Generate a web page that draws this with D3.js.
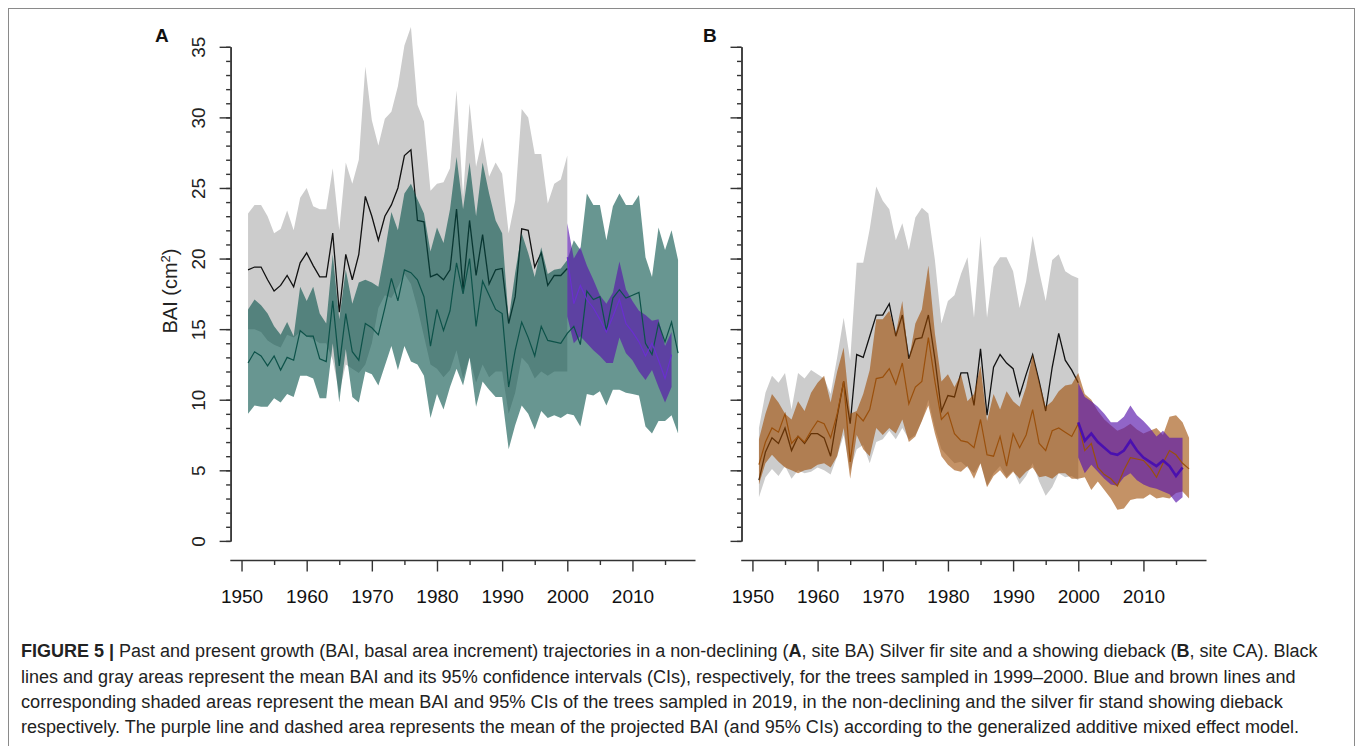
<!DOCTYPE html>
<html><head><meta charset="utf-8">
<script src="https://cdn.jsdelivr.net/npm/d3@7/dist/d3.min.js"></script>
<style>
body{margin:0;background:#fff}
svg{display:block}
text{font-family:"Liberation Sans",Arial,Helvetica,sans-serif}
</style>
</head><body><script>
// ---------------- DATA ----------------
const xTicks = [1950, 1960, 1970, 1980, 1990, 2000, 2010];
const yTicks = [0, 5, 10, 15, 20, 25, 30, 35];
const startOld = 1951;   // trees sampled 1999-2000 (1951-2000)
const startNew = 1951;   // trees sampled 2019 (1951-2017)
const startProj = 2000;  // GAMM projection (2000-2016)

// Panel A (site BA, non-declining)
const blackMeanA = [19.2,19.4,19.4,18.5,17.7,18.1,18.8,18.0,19.7,20.4,19.5,18.7,18.7,21.8,16.2,20.3,18.5,20.3,24.4,23.0,21.3,23.0,23.8,25.0,27.3,27.7,22.7,22.6,18.7,18.9,18.5,19.2,23.5,17.8,22.7,18.8,21.7,18.2,19.2,19.3,15.4,17.3,22.1,22.0,19.4,20.4,18.1,18.8,18.8,19.3];
const grayUpA = [23.2,23.8,23.8,23.0,21.8,22.1,23.4,22.0,24.3,25.0,23.7,23.5,23.5,26.4,22.0,26.8,25.3,27.0,33.6,29.8,28.0,29.9,30.4,32.2,35.1,36.4,30.9,29.7,24.8,25.3,25.4,26.4,31.9,24.4,31.0,26.5,28.6,25.8,26.8,26.0,21.8,24.1,30.6,30.0,27.4,27.4,23.9,25.3,25.6,27.3];
const grayLowA = [15.0,15.0,14.8,14.2,13.9,13.7,14.6,14.4,14.8,14.5,14.3,14.0,14.0,12.8,10.5,12.5,12.2,11.9,12.5,14.0,16.5,17.4,17.2,18.0,18.9,18.2,16.5,14.5,12.5,12.2,11.6,12.1,13.5,11.5,13.0,11.2,12.5,11.6,12.0,12.0,9.0,10.5,13.0,12.5,11.5,12.0,11.7,12.0,12.0,12.0];
const tealMeanA = [12.6,13.4,13.1,12.4,13.1,12.1,13.0,12.8,14.9,14.5,14.5,12.9,12.7,17.0,12.4,16.1,13.4,12.8,15.4,15.1,14.6,16.5,18.6,17.0,19.2,19.0,18.5,17.3,13.8,16.4,14.9,16.3,19.7,17.5,20.0,15.2,18.4,17.4,16.4,16.1,10.9,13.5,15.5,14.4,13.1,15.2,14.2,14.1,14.0,14.7,15.2,13.9,17.7,17.1,17.3,14.9,17.2,17.8,17.2,17.4,17.6,14.0,13.2,15.4,14.1,15.5,13.3];
const tealUpA = [16.4,17.1,16.7,16.1,15.2,14.6,15.5,14.5,18.0,17.0,18.0,16.1,15.4,20.3,15.7,19.2,16.8,18.3,18.5,18.3,18.0,20.5,23.3,22.0,24.6,25.3,24.2,23.2,20.5,22.2,21.1,23.5,27.2,23.5,26.8,23.0,26.8,24.6,22.7,21.8,15.7,19.0,21.8,20.4,18.7,20.8,18.9,19.2,19.3,19.9,21.3,20.6,24.6,23.8,23.8,21.3,23.7,24.6,23.8,23.8,24.5,20.1,18.7,22.2,20.6,22.0,19.9];
const tealLowA = [9.0,9.6,9.5,9.5,10.1,9.8,10.4,10.2,11.7,11.7,11.5,10.1,10.1,14.0,9.8,13.6,10.2,9.8,12.0,11.8,11.0,12.4,13.8,12.1,13.8,12.7,12.5,11.7,8.7,10.4,9.3,10.9,12.2,11.0,13.0,9.5,11.3,10.7,10.2,10.2,6.5,8.2,9.6,9.0,7.9,9.2,8.7,8.9,8.7,9.0,8.9,8.1,10.4,10.3,10.6,9.6,10.7,10.7,10.5,10.4,10.3,8.1,7.6,8.5,8.5,8.9,7.6];
const projMeanA = [20.1,16.8,18.1,17.1,16.5,15.7,14.8,15.9,17.1,15.4,14.8,14.1,13.1,14.0,12.8,11.5,13.2];
const projUpA = [22.5,20.0,20.8,19.5,18.5,17.4,16.8,17.6,19.8,17.8,17.0,16.3,16.0,15.6,15.7,13.8,14.8];
const projLowA = [15.9,14.0,14.5,14.0,13.5,13.1,12.6,12.6,14.4,13.3,12.8,12.0,11.4,12.1,10.9,9.8,10.9];

// Panel B (site CA, dieback)
const blackMeanB = [4.3,6.3,7.3,6.9,8.0,6.4,7.4,6.9,7.6,7.6,7.3,6.0,8.8,11.3,8.3,13.2,13.0,14.5,16.0,16.0,16.8,14.5,16.0,12.9,14.3,14.4,16.0,12.9,9.2,10.3,10.2,11.9,11.9,9.6,13.6,8.9,12.3,13.2,12.6,12.2,10.3,11.8,13.2,11.3,9.2,12.3,14.7,12.8,12.1,11.2];
const grayUpB = [8.0,10.5,11.7,11.2,11.9,9.3,11.9,11.5,12.1,11.8,11.5,10.4,13.0,15.8,12.8,19.7,19.7,22.1,25.1,24.1,23.5,21.3,22.5,20.6,22.9,23.6,23.2,19.9,15.4,17.0,17.4,18.9,20.1,15.8,21.6,15.8,19.4,20.1,20.1,19.1,16.5,18.4,21.6,19.1,17.0,19.9,20.3,19.1,18.8,18.6];
const grayLowB = [3.1,4.5,5.1,4.6,5.3,4.4,5.0,4.8,4.9,5.2,5.0,4.7,6.0,7.5,5.0,6.5,6.8,5.5,7.0,7.2,7.8,7.2,8.0,7.2,7.5,8.5,10.0,8.0,6.5,6.0,5.5,5.6,5.2,4.8,5.5,3.9,4.8,5.3,4.5,5.0,4.0,4.6,5.5,4.2,3.2,3.8,4.8,4.5,4.6,4.3];
const brownMeanB = [5.4,7.0,8.0,7.7,9.0,6.9,7.4,7.0,7.8,8.5,8.3,7.3,9.0,11.3,5.6,9.0,8.5,9.3,11.5,11.6,12.2,11.1,12.6,9.7,10.9,11.3,14.4,11.3,8.6,9.1,7.6,7.1,7.0,6.6,8.6,6.1,6.0,7.4,5.3,7.6,6.6,7.5,9.3,6.9,6.4,7.8,8.0,7.7,7.4,8.3,6.4,6.9,5.2,4.7,4.4,3.9,5.0,5.9,5.8,5.7,5.2,4.5,5.5,6.4,6.1,5.5,5.1];
const brownUpB = [7.2,9.0,10.4,9.8,9.0,8.6,9.9,9.2,10.5,11.2,11.7,9.8,12.0,13.7,9.0,9.2,10.4,12.1,15.7,15.7,16.3,14.7,17.0,12.8,15.4,16.4,19.5,14.7,11.3,11.8,10.9,11.8,9.9,10.4,12.4,8.5,10.4,9.3,10.6,9.9,9.5,10.9,13.2,11.3,9.5,9.9,10.6,11.0,11.1,11.9,10.4,10.0,9.2,8.6,8.2,7.8,8.0,8.3,7.9,7.6,7.8,8.0,7.5,8.8,8.9,8.4,7.3];
const brownLowB = [4.0,5.5,6.1,5.6,5.2,5.0,4.8,5.0,5.1,5.4,5.5,5.2,6.0,8.0,4.4,7.5,6.5,6.0,8.0,7.5,8.0,7.6,8.6,7.0,7.4,8.5,9.6,7.6,6.0,5.4,5.0,4.9,5.3,4.4,5.5,3.8,4.6,5.0,4.4,4.9,4.4,4.9,5.2,4.5,4.6,4.4,4.8,4.8,4.4,4.4,4.5,3.6,4.2,3.6,3.0,2.2,2.3,2.9,3.0,3.0,3.3,3.0,3.1,3.0,3.4,3.5,3.0];
const projMeanB = [8.4,7.1,7.6,7.0,6.6,6.2,6.1,6.4,7.1,6.4,5.9,5.6,5.3,5.7,5.3,4.6,5.2];
const projUpB = [11.2,10.2,9.9,9.5,9.0,8.4,8.4,8.8,9.6,8.9,8.5,8.0,7.4,7.8,7.3,7.3,7.3];
const projLowB = [5.9,4.8,5.4,4.9,4.4,4.0,3.9,4.5,4.8,4.3,4.0,3.8,3.7,3.5,3.3,2.7,3.1];

const captionLines = [
  [["FIGURE 5 | ",true],["Past and present growth (BAI, basal area increment) trajectories in a non-declining (",false],["A",true],[", site BA) Silver fir site and a showing dieback (",false],["B",true],[", site CA). Black",false]],
  [["lines and gray areas represent the mean BAI and its 95% confidence intervals (CIs), respectively, for the trees sampled in 1999–2000. Blue and brown lines and",false]],
  [["corresponding shaded areas represent the mean BAI and 95% CIs of the trees sampled in 2019, in the non-declining and the silver fir stand showing dieback",false]],
  [["respectively. The purple line and dashed area represents the mean of the projected BAI (and 95% CIs) according to the generalized additive mixed effect model.",false]]
];

// ---------------- DRAWING ----------------
const W = 1358, H = 746;
const svg = d3.select("body").append("svg").attr("width", W).attr("height", H);
svg.append("rect").attr("width", W).attr("height", H).attr("fill", "#fff");
svg.append("rect").attr("x", 8.5).attr("y", 8.5).attr("width", 1346).attr("height", 760)
   .attr("fill", "none").attr("stroke", "#8a8a8a").attr("stroke-width", 1);

const y = d3.scaleLinear().domain([0, 35]).range([540.9, 46.8]);

function rows(start, mean, lo, hi) {
  return mean.map((m, i) => ({yr: start + i, m: m, lo: lo ? lo[i] : null, hi: hi ? hi[i] : null}));
}

function drawPanel(p) {
  const x = d3.scaleLinear().domain([1948.2, 2019.6]).range([p.x0, p.x1]);
  const g = svg.append("g");
  const area = d3.area().x(d => x(d.yr)).y0(d => y(d.lo)).y1(d => y(d.hi));
  const line = d3.line().x(d => x(d.yr)).y(d => y(d.m));

  const old = rows(startOld, p.blackMean, p.grayLow, p.grayUp);
  const nw = rows(startNew, p.newMean, p.newLow, p.newUp);
  const pr = rows(startProj, p.projMean, p.projLow, p.projUp);

  g.append("path").attr("d", area(old)).attr("fill", "#cccccc");
  g.append("path").attr("d", line(old)).attr("fill", "none").attr("stroke", "#111").attr("stroke-width", 1.3);
  g.append("path").attr("d", area(nw)).attr("fill", p.newColor).attr("fill-opacity", 0.6);
  g.append("path").attr("d", area(pr)).attr("fill", "rgb(88,22,172)").attr("fill-opacity", 0.66);
  g.append("path").attr("d", line(nw)).attr("fill", "none").attr("stroke", p.newLine).attr("stroke-width", 1.2);
  g.append("path").attr("d", line(pr)).attr("fill", "none").attr("stroke", p.projLine).attr("stroke-width", p.projWidth);

  // y axis
  const ya = g.append("g").attr("transform", `translate(${p.yAxisX},0)`).attr("color", "#333");
  ya.call(d3.axisLeft(y).tickValues(d3.range(0, 36, 1)).tickSize(4.5).tickSizeOuter(0).tickFormat(""));
  const yb = g.append("g").attr("transform", `translate(${p.yAxisX},0)`).attr("color", "#333");
  yb.call(d3.axisLeft(y).tickValues(yTicks).tickSize(11).tickSizeOuter(0).tickFormat(p.yLabels ? d3.format("d") : ""));
  [ya, yb].forEach(a => { a.attr("font-size", null).attr("font-family", null); a.selectAll("line,path").attr("stroke-width", 1.4); });
  yb.selectAll("text").attr("transform", "rotate(-90)").attr("x", 0).attr("y", -25.5).attr("dy", 0)
    .attr("text-anchor", "middle").style("font-size", "19px").attr("fill", "#222");

  // x axis
  const xa = g.append("g").attr("transform", "translate(0,560)").attr("color", "#333");
  xa.call(d3.axisBottom(x).tickValues(xTicks).tickSize(11.5).tickSizeOuter(0).tickFormat(d3.format("d")));
  const xm = g.append("g").attr("transform", "translate(0,560)").attr("color", "#333");
  xm.call(d3.axisBottom(x).tickValues(xTicks.map(t => t + 5)).tickSize(5).tickSizeOuter(0).tickFormat(""));
  xm.select(".domain").remove();
  [xa, xm].forEach(a => { a.attr("font-size", null).attr("font-family", null); a.selectAll("line,path").attr("stroke-width", 1.4); });
  xa.selectAll("text").attr("y", 43).attr("dy", 0).style("font-size", "19px").attr("fill", "#111");

  svg.append("text").attr("x", p.letterX).attr("y", 42).text(p.letter)
     .style("font-size", "19px").style("font-weight", "bold").attr("fill", "#111");
}

drawPanel({x0: 229.8, x1: 695, yAxisX: 230.6, yLabels: true, letter: "A", letterX: 155,
  blackMean: blackMeanA, grayUp: grayUpA, grayLow: grayLowA,
  newMean: tealMeanA, newUp: tealUpA, newLow: tealLowA, newColor: "rgb(3,80,72)", newLine: "#0d5249",
  projMean: projMeanA, projUp: projUpA, projLow: projLowA, projLine: "#6a2fd0", projWidth: 1.2});
drawPanel({x0: 740.7, x1: 1206, yAxisX: 741.5, yLabels: false, letter: "B", letterX: 703,
  blackMean: blackMeanB, grayUp: grayUpB, grayLow: grayLowB,
  newMean: brownMeanB, newUp: brownUpB, newLow: brownLowB, newColor: "rgb(157,73,0)", newLine: "#9a500c",
  projMean: projMeanB, projUp: projUpB, projLow: projLowB, projLine: "#4a10b0", projWidth: 2.6});

// y axis title
svg.append("text").attr("transform", "translate(177,291) rotate(-90)").attr("text-anchor", "middle")
   .style("font-size", "20px").attr("fill", "#222")
   .call(t => { t.append("tspan").text("BAI (cm"); t.append("tspan").attr("dy", -7).style("font-size", "13px").text("2");
               t.append("tspan").attr("dy", 7).text(")"); });

// caption
const capY = [657, 683, 708, 733];
const capEnd = [1318, 1297, 1283, 1300];
captionLines.forEach((parts, i) => {
  const t = svg.append("text").attr("x", 21).attr("y", capY[i]).style("font-size", "15.5px").attr("fill", "#222");
  parts.forEach(([s, b]) => t.append("tspan").text(s).style("font-weight", b ? "bold" : "normal"));
  const w = t.node().getComputedTextLength();
  const target = capEnd[i] - 21;
  t.style("font-size", (15.5 * target / w).toFixed(3) + "px");
});
</script></body></html>
